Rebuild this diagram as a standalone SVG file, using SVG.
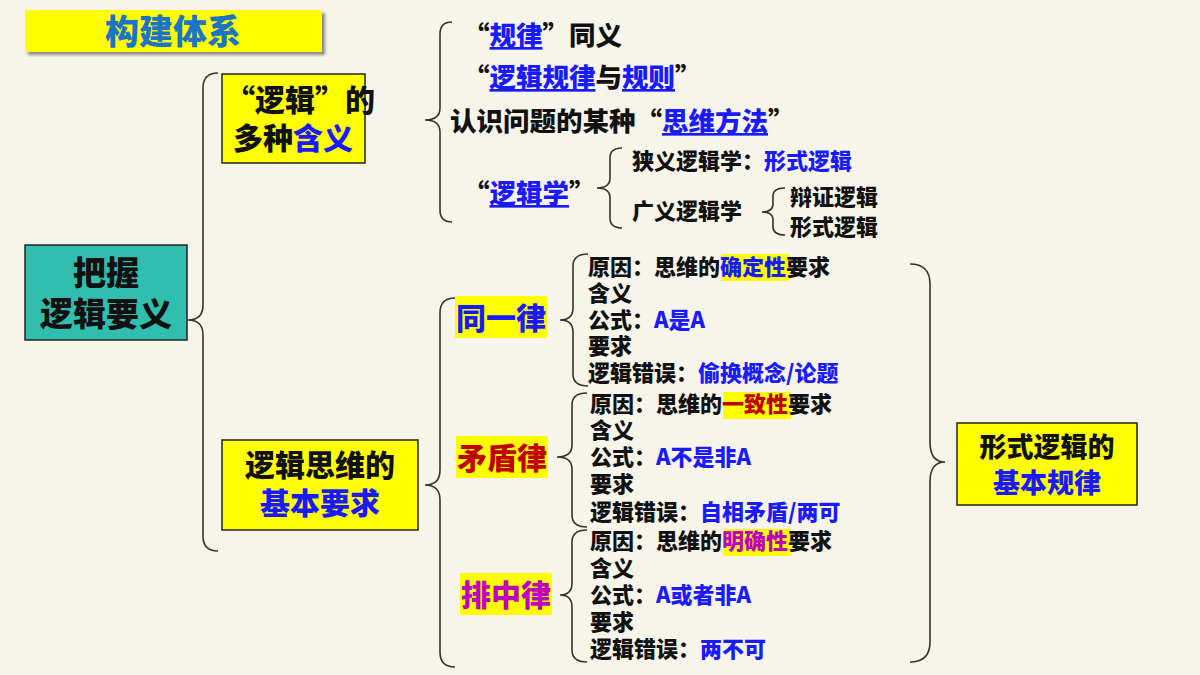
<svg xmlns="http://www.w3.org/2000/svg" width="1200" height="675" viewBox="0 0 1200 675">
<style>
text{font-family:"Noto Sans CJK SC","Liberation Sans",sans-serif;font-weight:900;fill:#111}
.b{fill:#1a1aff}.u{text-decoration:underline}
.br{fill:none;stroke:#333;stroke-width:1.6}
.s{font-size:22px}.m{font-size:26.5px}.l{font-size:33px}.k{font-size:30px}
.yb{fill:#ffff00;stroke:#222;stroke-width:1.5}
</style>
<defs><filter id="sh"><feDropShadow dx="3" dy="3" stdDeviation="1.5" flood-color="#888"/></filter></defs>
<rect width="1200" height="675" fill="#f7f5ea"/>
<g id="title"><rect x="25" y="10" width="297" height="42" fill="#ffff00" filter="url(#sh)"/><text x="173" y="44" text-anchor="middle" style="font-size:34px;fill:#1b75c4">构建体系</text></g>
<g id="connectors">
<path class="br" d="M218,73 Q203,73 203,88 L203,305 Q203,320 188,320 Q203,320 203,335 L203,536 Q203,551 218,551"/>
<path class="br" d="M452,22 Q440,22 440,34 L440,108 Q440,120 425,120 Q440,120 440,132 L440,210 Q440,222 452,222"/>
<path class="br" d="M622,148 Q610,148 610,158 L610,178 Q610,188 597,188 Q610,188 610,198 L610,218 Q610,228 622,228"/>
<path class="br" d="M785,188 Q773,188 773,196 L773,204 Q773,212 762,212 Q773,212 773,220 L773,227 Q773,235 785,235"/>
<path class="br" d="M455,298 Q440,298 440,313 L440,470 Q440,485 425,485 Q440,485 440,500 L440,652 Q440,667 455,667"/>
<path class="br" d="M588,254 Q573,254 573,266 L573,308 Q573,320 560,320 Q573,320 573,332 L573,374 Q573,386 588,386"/>
<path class="br" d="M587,393 Q572,393 572,405 L572,445 Q572,457 557,457 Q572,457 572,469 L572,515 Q572,527 587,527"/>
<path class="br" d="M587,530 Q572,530 572,542 L572,583 Q572,595 560,595 Q572,595 572,607 L572,650 Q572,662 587,662"/>
<path class="br" d="M910,264 Q930,264 930,284 L930,442 Q930,462 945,462 Q930,462 930,482 L930,642 Q930,662 910,662"/>
</g>
<g id="root"><rect x="25" y="245" width="162" height="95" fill="#30bfae" stroke="#222" stroke-width="1.5"/><text x="106" y="285" text-anchor="middle" class="l">把握</text><text x="106" y="326" text-anchor="middle" class="l">逻辑要义</text></g>
<g id="meaning"><rect x="222" y="74" width="143" height="89" class="yb"/><text x="300" y="111" text-anchor="middle" class="k">“逻辑”的</text><text x="293" y="149" text-anchor="middle" class="k">多种<tspan class="b">含义</tspan></text></g>
<g id="req"><rect x="222" y="440" width="196" height="90" class="yb"/><text x="320" y="476" text-anchor="middle" class="k">逻辑思维的</text><text x="320" y="514" text-anchor="middle" class="k b">基本要求</text></g>
<g id="laws"><rect x="957" y="423" width="180" height="82" class="yb"/><text x="1047" y="457" text-anchor="middle" style="font-size:27px">形式逻辑的</text><text x="1047" y="493" text-anchor="middle" class="b" style="font-size:27px">基本规律</text></g>
<g id="m1"><text x="463" y="45" class="m">“<tspan class="b u">规律</tspan>”同义</text></g>
<g id="m2"><text x="463" y="87" class="m">“<tspan class="b u">逻辑规律</tspan>与<tspan class="b u">规则</tspan>”</text></g>
<g id="m3"><text x="450" y="131" class="m">认识问题的某种“<tspan class="b u">思维方法</tspan>”</text></g>
<g id="m4"><text x="463" y="203" class="m">“<tspan class="b u">逻辑学</tspan>”</text></g>
<g id="m5"><text x="632" y="169" class="s">狭义逻辑学：<tspan class="b">形式逻辑</tspan></text></g>
<g id="m6"><text x="632" y="219" class="s">广义逻辑学</text></g>
<g id="m7"><text x="790" y="205" class="s">辩证逻辑</text><text x="790" y="235" class="s">形式逻辑</text></g>
<g id="law1"><rect x="455" y="296" width="92" height="42" fill="#ffff00"/><text x="501" y="329" text-anchor="middle" class="k b">同一律</text></g>
<g id="law2"><rect x="456" y="436" width="92" height="42" fill="#ffff00"/><text x="502" y="469" text-anchor="middle" class="k" style="fill:#c00000">矛盾律</text></g>
<g id="law3"><rect x="460" y="573" width="92" height="42" fill="#ffff00"/><text x="506" y="606" text-anchor="middle" class="k" style="fill:#c000c0">排中律</text></g>
<g id="d1">
<rect x="721" y="254" width="68" height="27" fill="#ffff00"/>
<text x="588" y="275" class="s">原因：思维的<tspan class="b">确定性</tspan>要求</text>
<text x="588" y="301" class="s">含义</text>
<text x="588" y="328" class="s">公式：<tspan class="b">A是A</tspan></text>
<text x="588" y="354" class="s">要求</text>
<text x="588" y="381" class="s">逻辑错误：<tspan class="b">偷换概念/论题</tspan></text>
</g>
<g id="d2">
<rect x="723" y="392" width="68" height="27" fill="#ffff00"/>
<text x="590" y="412" class="s">原因：思维的<tspan style="fill:#c00000">一致性</tspan>要求</text>
<text x="590" y="438" class="s">含义</text>
<text x="590" y="465" class="s">公式：<tspan class="b">A不是非A</tspan></text>
<text x="590" y="492" class="s">要求</text>
<text x="590" y="520" class="s">逻辑错误：<tspan class="b">自相矛盾/两可</tspan></text>
</g>
<g id="d3">
<rect x="723" y="529" width="68" height="27" fill="#ffff00"/>
<text x="590" y="549" class="s">原因：思维的<tspan style="fill:#c000c0">明确性</tspan>要求</text>
<text x="590" y="576" class="s">含义</text>
<text x="590" y="603" class="s">公式：<tspan class="b">A或者非A</tspan></text>
<text x="590" y="630" class="s">要求</text>
<text x="590" y="657" class="s">逻辑错误：<tspan class="b">两不可</tspan></text>
</g>
</svg>
